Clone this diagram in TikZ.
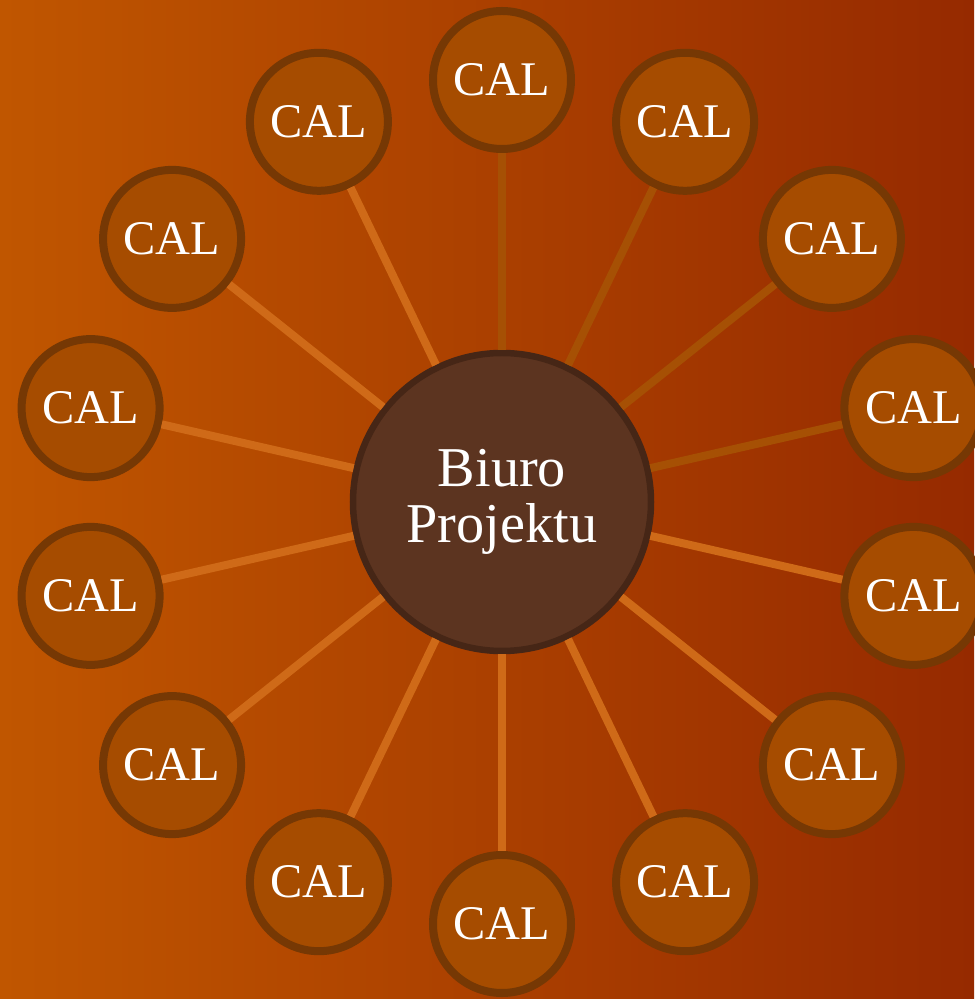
\documentclass[tikz,border=0pt]{standalone}
\usepackage{fontspec}
\setmainfont{Liberation Serif}
\usetikzlibrary{positioning,calc}
\definecolor{bgleft}{RGB}{192,86,0}
\definecolor{bgright}{RGB}{150,42,0}
\definecolor{calfill}{RGB}{166,76,0}
\definecolor{calrim}{RGB}{118,56,4}
\definecolor{hubfill}{RGB}{92,52,32}
\definecolor{hubrim}{RGB}{70,38,22}
\definecolor{spokelight}{RGB}{207,106,24}
\definecolor{spokedark}{RGB}{166,80,4}
\tikzset{
	hub/.style={circle, draw=hubrim, fill=hubfill, line width=0.13cm, minimum size=5.96cm,
		align=center, text=white, font=\fontsize{32}{32}\selectfont, inner sep=0pt},
	cal/.style={circle, draw=calrim, fill=calfill, line width=0.16cm, minimum size=2.76cm,
		text=white, font=\fontsize{27.5}{32}\selectfont, inner sep=0pt},
	spoke/.style={line width=0.16cm}
}

\begin{document}
\begin{tikzpicture}
	\shade[left color=bgleft, right color=bgright] (-10.04,-9.94) rectangle (9.44,10.04);
	\useasboundingbox (-10.04,-9.94) rectangle (9.44,10.04);

	\node[hub] (biuro) at (0,0) {Biuro\\Projektu};
	\foreach \i in {0,...,13} {
		\node[cal] (cal\i) at ({90-\i*360/14}:8.44) {CAL};
	}

	% spokes: upper right ones are darker
	\foreach \i in {0,...,3}
		\draw[spoke, spokedark] (biuro) -- (cal\i);
	\foreach \i in {4,...,13}
		\draw[spoke, spokelight] (biuro) -- (cal\i);
\end{tikzpicture}
\end{document}
